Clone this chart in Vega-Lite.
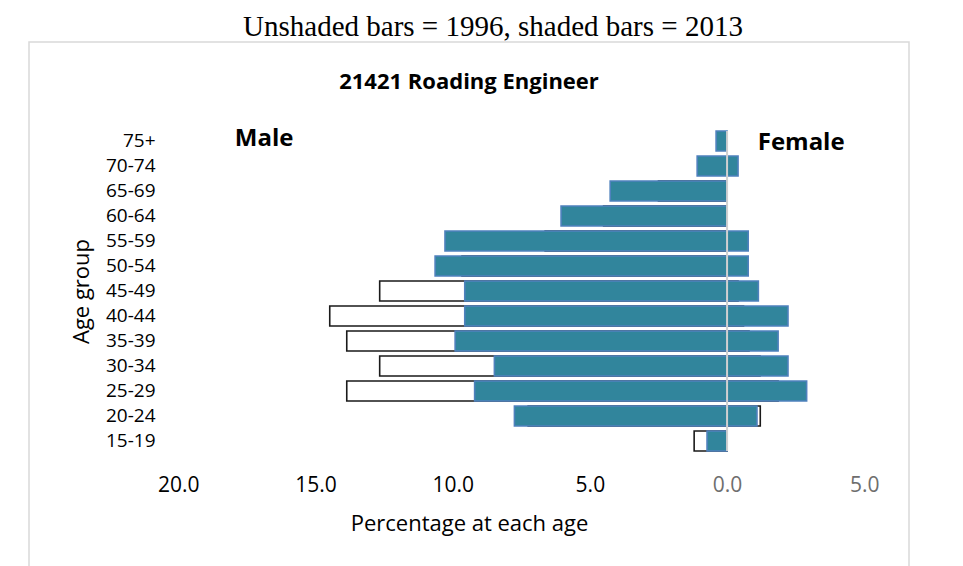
{
  "$schema": "https://vega.github.io/schema/vega-lite/v6.json",
  "background": "white",
  "padding": {"left": 28, "top": 13, "right": 0, "bottom": 0},
  "title": {"text": "Unshaded bars = 1996, shaded bars = 2013", "font": "Liberation Serif", "fontSize": 29, "fontWeight": "normal", "color": "#000000", "anchor": "middle", "dx": 24, "offset": -30, "baseline": "bottom"},
  "datasets": {
    "pop": [
      {"age": "65-69", "year": 1996, "sex": "Male", "value": -2.5},
      {"age": "60-64", "year": 1996, "sex": "Male", "value": -4.5},
      {"age": "55-59", "year": 1996, "sex": "Male", "value": -6.63},
      {"age": "50-54", "year": 1996, "sex": "Male", "value": -9.66},
      {"age": "45-49", "year": 1996, "sex": "Male", "value": -12.66},
      {"age": "40-44", "year": 1996, "sex": "Male", "value": -14.48},
      {"age": "35-39", "year": 1996, "sex": "Male", "value": -13.86},
      {"age": "30-34", "year": 1996, "sex": "Male", "value": -12.66},
      {"age": "25-29", "year": 1996, "sex": "Male", "value": -13.86},
      {"age": "20-24", "year": 1996, "sex": "Male", "value": -7.25},
      {"age": "15-19", "year": 1996, "sex": "Male", "value": -1.2},
      {"age": "45-49", "year": 1996, "sex": "Female", "value": 0.4},
      {"age": "40-44", "year": 1996, "sex": "Female", "value": 0.6},
      {"age": "35-39", "year": 1996, "sex": "Female", "value": 0.8},
      {"age": "30-34", "year": 1996, "sex": "Female", "value": 1.2},
      {"age": "25-29", "year": 1996, "sex": "Female", "value": 1.86},
      {"age": "20-24", "year": 1996, "sex": "Female", "value": 1.21},
      {"age": "75+", "year": 2013, "sex": "Male", "value": -0.4},
      {"age": "70-74", "year": 2013, "sex": "Male", "value": -1.09},
      {"age": "65-69", "year": 2013, "sex": "Male", "value": -4.26},
      {"age": "60-64", "year": 2013, "sex": "Male", "value": -6.05},
      {"age": "55-59", "year": 2013, "sex": "Male", "value": -10.28},
      {"age": "50-54", "year": 2013, "sex": "Male", "value": -10.64},
      {"age": "45-49", "year": 2013, "sex": "Male", "value": -9.56},
      {"age": "40-44", "year": 2013, "sex": "Male", "value": -9.56},
      {"age": "35-39", "year": 2013, "sex": "Male", "value": -9.91},
      {"age": "30-34", "year": 2013, "sex": "Male", "value": -8.48},
      {"age": "25-29", "year": 2013, "sex": "Male", "value": -9.2},
      {"age": "20-24", "year": 2013, "sex": "Male", "value": -7.75},
      {"age": "15-19", "year": 2013, "sex": "Male", "value": -0.73},
      {"age": "70-74", "year": 2013, "sex": "Female", "value": 0.4},
      {"age": "55-59", "year": 2013, "sex": "Female", "value": 0.77},
      {"age": "50-54", "year": 2013, "sex": "Female", "value": 0.77},
      {"age": "45-49", "year": 2013, "sex": "Female", "value": 1.14},
      {"age": "40-44", "year": 2013, "sex": "Female", "value": 2.22},
      {"age": "35-39", "year": 2013, "sex": "Female", "value": 1.86},
      {"age": "30-34", "year": 2013, "sex": "Female", "value": 2.22},
      {"age": "25-29", "year": 2013, "sex": "Female", "value": 2.9},
      {"age": "20-24", "year": 2013, "sex": "Female", "value": 1.09}
    ]
  },
  "vconcat": [
    {
      "width": 880,
      "height": 530,
      "title": {"text": "21421 Roading Engineer", "font": "Open Sans", "fontSize": 22, "fontWeight": "bold", "color": "#000000", "anchor": "middle", "offset": -73.5, "baseline": "bottom"},
      "layer": [
        {
          "data": {"name": "pop"},
          "transform": [{"filter": "datum.year == 1996"}],
          "mark": {"type": "bar", "fill": "#ffffff", "stroke": "#1a1a1a", "strokeWidth": 1.6},
          "encoding": {
            "y": {
              "field": "age", "type": "nominal",
              "sort": ["75+", "70-74", "65-69", "60-64", "55-59", "50-54", "45-49", "40-44", "35-39", "30-34", "25-29", "20-24", "15-19"],
              "scale": {"domain": ["75+", "70-74", "65-69", "60-64", "55-59", "50-54", "45-49", "40-44", "35-39", "30-34", "25-29", "20-24", "15-19"], "range": [86.5, 411.5], "paddingInner": 0.2, "paddingOuter": 0.1, "align": 0.5},
              "axis": {"orient": "left", "offset": -126, "domain": false, "ticks": false, "tickSize": 0, "labelPadding": 0, "labelFont": "Open Sans", "labelFontSize": 19, "labelColor": "#000000", "title": "Age group", "titleFont": "Open Sans", "titleFontSize": 22, "titleFontWeight": "normal", "titleColor": "#000000", "titlePadding": 12, "grid": false}
            },
            "x": {
              "field": "value", "type": "quantitative",
              "scale": {"domain": [-25.44, 6.63], "nice": false, "zero": false},
              "axis": {"orient": "bottom", "offset": -97.5, "values": [-20, -15, -10, -5, 0, 5], "labelExpr": "format(abs(datum.value), '.1f')", "labelColor": {"condition": {"test": "datum.value >= 0", "value": "#6E6E6E"}, "value": "#000000"}, "labelFlush": false, "labelOverlap": false, "domain": false, "ticks": false, "tickSize": 0, "labelPadding": 0, "labelFont": "Open Sans", "labelFontSize": 21, "title": "Percentage at each age", "titleFont": "Open Sans", "titleFontSize": 22, "titleFontWeight": "normal", "titleColor": "#000000", "titlePadding": 18, "grid": false}
            }
          }
        },
        {
          "data": {"name": "pop"},
          "transform": [{"filter": "datum.year == 2013"}],
          "mark": {"type": "bar", "fill": "#31859C", "stroke": "#4F81BD", "strokeWidth": 1.6},
          "encoding": {
            "y": {"field": "age", "type": "nominal"},
            "x": {"field": "value", "type": "quantitative"}
          }
        },
        {
          "data": {"values": [{}]},
          "mark": {"type": "rule", "color": "#D0D0D0", "strokeWidth": 2},
          "encoding": {
            "x": {"datum": 0, "type": "quantitative"},
            "y": {"datum": "75+", "type": "nominal", "bandPosition": 0},
            "y2": {"datum": "15-19", "bandPosition": 1}
          }
        },
        {
          "data": {"values": [{}]},
          "mark": {"type": "text", "text": "Male", "font": "Open Sans", "fontSize": 24, "fontWeight": "bold", "color": "#000000", "align": "center", "baseline": "middle", "dy": -2},
          "encoding": {
            "x": {"datum": -16.87, "type": "quantitative"},
            "y": {"datum": "75+", "type": "nominal"}
          }
        },
        {
          "data": {"values": [{}]},
          "mark": {"type": "text", "text": "Female", "font": "Open Sans", "fontSize": 24, "fontWeight": "bold", "color": "#000000", "align": "center", "baseline": "middle", "dy": 2},
          "encoding": {
            "x": {"datum": 2.7, "type": "quantitative"},
            "y": {"datum": "75+", "type": "nominal"}
          }
        }
      ]
    }
  ],
  "config": {
    "view": {"stroke": "#D9D9D9", "strokeWidth": 1.5},
    "concat": {"spacing": 0}
  }
}
